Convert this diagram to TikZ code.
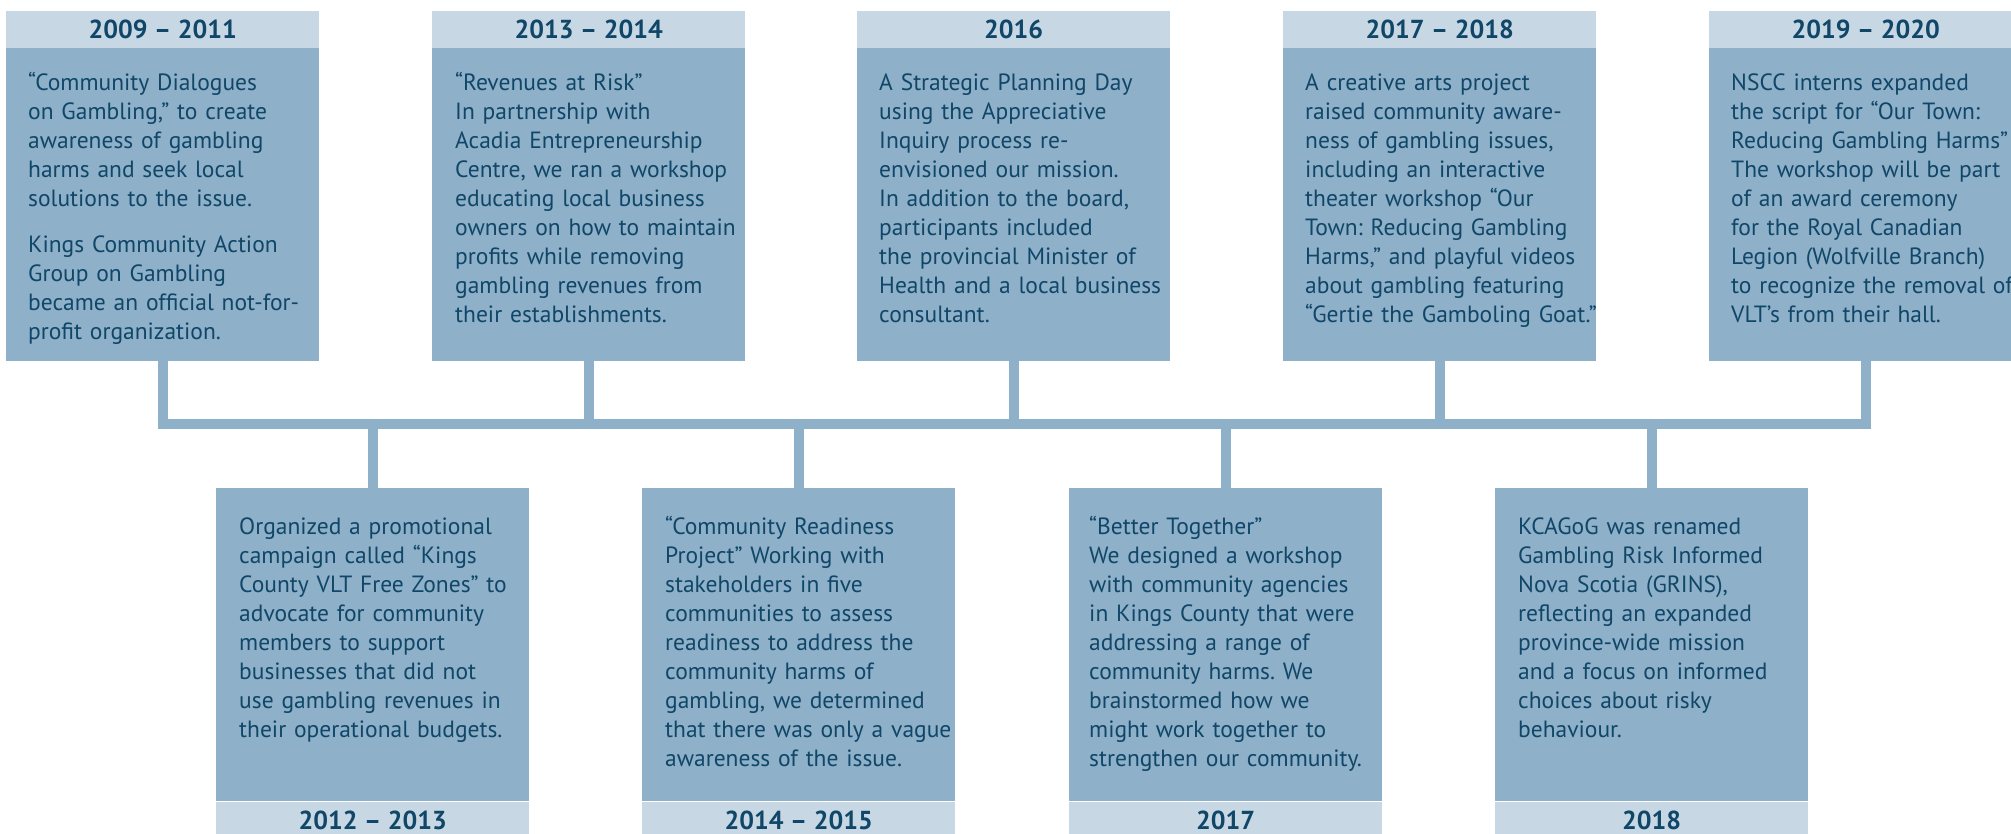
\documentclass[tikz,border=0pt]{standalone}
\usepackage{fontspec}
\setmainfont{PT Sans}
\frenchspacing
\definecolor{panelblue}{RGB}{142,176,201}
\definecolor{headblue}{RGB}{199,216,228}
\definecolor{inkblue}{RGB}{16,70,104}
\tikzset{
  panel/.style={rectangle,fill=panelblue,minimum width=313pt,minimum height=313pt,inner sep=0pt,anchor=north west},
  yearbar/.style={rectangle,fill=headblue,minimum width=313pt,minimum height=37pt,inner sep=0pt,text=inkblue,font=\fontsize{26}{30}\selectfont\bfseries},
  blurb/.style={anchor=base west,text width=300pt,align=left,inner sep=0pt,text=inkblue,font=\fontsize{23.5}{29}\selectfont},
  link/.style={draw=panelblue,line width=10pt}
}

\begin{document}
\begin{tikzpicture}[x=1pt,y=-1pt]
  \useasboundingbox (0,0) rectangle (2011,834);
  \clip (0,0) rectangle (2011,834);

  % Panels, top row
  \node[panel] (t1) at (6,48) {};
  \node[panel] (t2) at (432,48) {};
  \node[panel] (t3) at (857,48) {};
  \node[panel] (t4) at (1283,48) {};
  \node[panel] (t5) at (1709,48) {};

  % Panels, bottom row
  \node[panel] (b1) at (216,488) {};
  \node[panel] (b2) at (642,488) {};
  \node[panel] (b3) at (1069,488) {};
  \node[panel] (b4) at (1495,488) {};

  % Years
  \node[yearbar,anchor=south] (th1) at (t1.north) {2009 – 2011};
  \node[yearbar,anchor=south] (th2) at (t2.north) {2013 – 2014};
  \node[yearbar,anchor=south] (th3) at (t3.north) {2016};
  \node[yearbar,anchor=south] (th4) at (t4.north) {2017 – 2018};
  \node[yearbar,anchor=south] (th5) at (t5.north) {2019 – 2020};
  \node[yearbar,anchor=north] (bf1) at (b1.south) {2012 – 2013};
  \node[yearbar,anchor=north] (bf2) at (b2.south) {2014 – 2015};
  \node[yearbar,anchor=north] (bf3) at (b3.south) {2017};
  \node[yearbar,anchor=north] (bf4) at (b4.south) {2018};

  % Time line
  \coordinate (lvl) at (0,424);
  \coordinate (barL) at (t1.south |- lvl);
  \coordinate (barR) at (t5.south |- lvl);
  \draw[link,line cap=rect] (barL) -- (barR);
  \draw[link] (t1.south) -- (t1.south |- lvl);
  \draw[link] (t2.south) -- (t2.south |- lvl);
  \draw[link] (t3.south) -- (t3.south |- lvl);
  \draw[link] (t4.south) -- (t4.south |- lvl);
  \draw[link] (t5.south) -- (t5.south |- lvl);
  \draw[link] (b1.north) -- (b1.north |- lvl);
  \draw[link] (b2.north) -- (b2.north |- lvl);
  \draw[link] (b3.north) -- (b3.north |- lvl);
  \draw[link] (b4.north) -- (b4.north |- lvl);

  % Texts
  \node[blurb] (x1) at ([shift={(22,43)}]t1.north west)
    {“Community Dialogues\\ on Gambling,” to create\\ awareness of gambling\\ harms and seek local\\ solutions to the issue.\\[17pt]
     Kings Community Action\\ Group on Gambling\\ became an official not-for-\\ profit organization.};
  \node[blurb] (x2) at ([shift={(23,43)}]t2.north west)
    {“Revenues at Risk”\\ In partnership with\\ Acadia Entrepreneurship\\ Centre, we ran a workshop\\ educating local business\\ owners on how to maintain\\ profits while removing\\ gambling revenues from\\ their establishments.};
  \node[blurb] (x3) at ([shift={(22,43)}]t3.north west)
    {A Strategic Planning Day\\ using the Appreciative\\ Inquiry process re-\\ envisioned our mission.\\ In addition to the board,\\ participants included\\ the provincial Minister of\\ Health and a local business\\ consultant.};
  \node[blurb] (x4) at ([shift={(22,43)}]t4.north west)
    {A creative arts project\\ raised community aware-\\ ness of gambling issues,\\ including an interactive\\ theater workshop “Our\\ Town: Reducing Gambling\\ Harms,” and playful videos\\ about gambling featuring\\ “Gertie the Gamboling Goat.”};
  \node[blurb] (x5) at ([shift={(22,43)}]t5.north west)
    {NSCC interns expanded\\ the script for “Our Town:\\ Reducing Gambling Harms”\\ The workshop will be part\\ of an award ceremony\\ for the Royal Canadian\\ Legion (Wolfville Branch)\\ to recognize the removal of\\ VLT’s from their hall.};
  \node[blurb] (y1) at ([shift={(23,46)}]b1.north west)
    {Organized a promotional\\ campaign called “Kings\\ County VLT Free Zones” to\\ advocate for community\\ members to support\\ businesses that did not\\ use gambling revenues in\\ their operational budgets.};
  \node[blurb] (y2) at ([shift={(23,46)}]b2.north west)
    {“Community Readiness\\ Project” Working with\\ stakeholders in five\\ communities to assess\\ readiness to address the\\ community harms of\\ gambling, we determined\\ that there was only a vague\\ awareness of the issue.};
  \node[blurb] (y3) at ([shift={(20,46)}]b3.north west)
    {“Better Together”\\ We designed a workshop\\ with community agencies\\ in Kings County that were\\ addressing a range of\\ community harms. We\\ brainstormed how we\\ might work together to\\ strengthen our community.};
  \node[blurb] (y4) at ([shift={(23,46)}]b4.north west)
    {KCAGoG was renamed\\ Gambling Risk Informed\\ Nova Scotia (GRINS),\\ reflecting an expanded\\ province-wide mission\\ and a focus on informed\\ choices about risky\\ behaviour.};
\end{tikzpicture}
\end{document}
